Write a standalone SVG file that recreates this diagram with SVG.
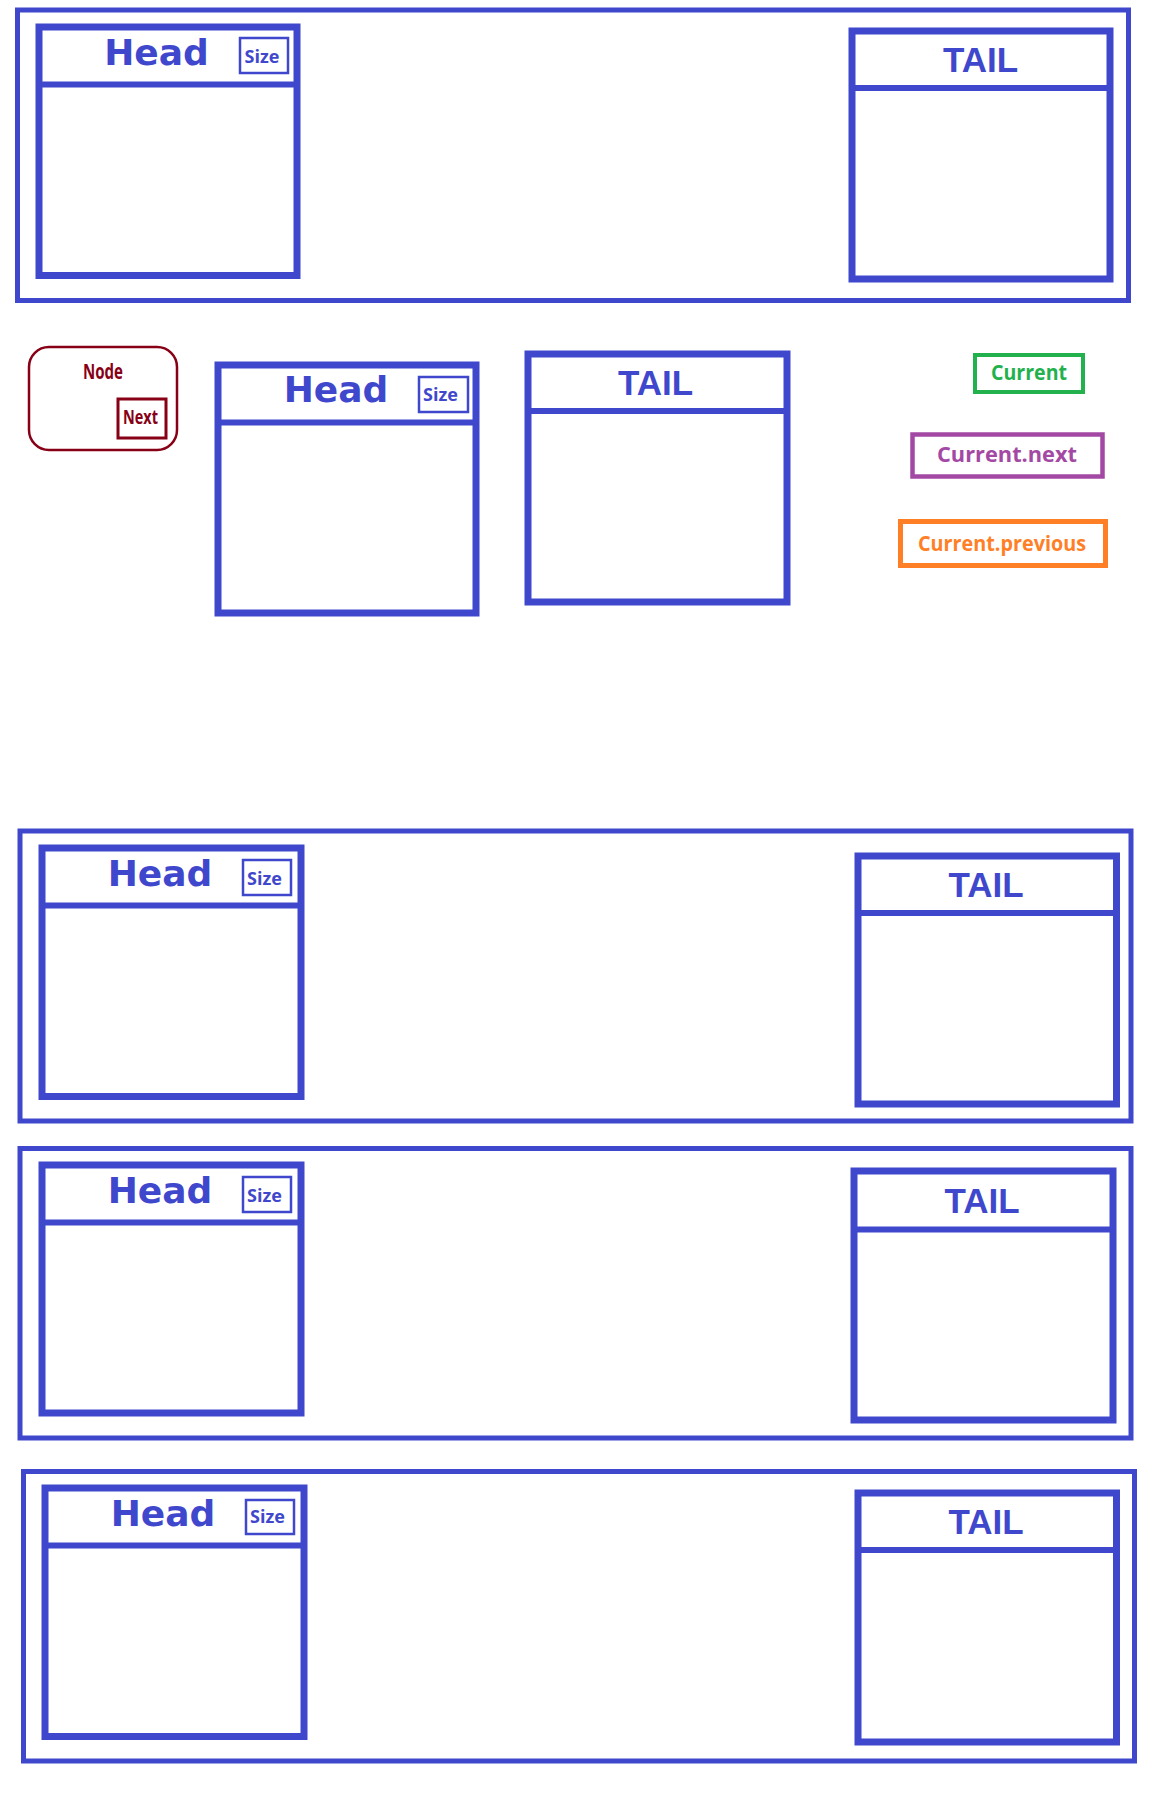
<svg xmlns="http://www.w3.org/2000/svg" width="1152" height="1800" viewBox="0 0 1152 1800">
<style>
.panel{fill:none;stroke:#3F48CC;stroke-width:5}
.box{fill:#fff;stroke:#3F48CC;stroke-width:7}
.div{stroke:#3F48CC;stroke-width:6}
.size{fill:#fff;stroke:#3F48CC;stroke-width:2.5}
.head{font-family:"DejaVu Sans",Verdana,sans-serif;font-weight:bold;font-size:36px;fill:#3F48CC;text-anchor:middle}
.tail{font-family:"Liberation Sans",Arial,sans-serif;font-weight:bold;font-size:35px;fill:#3F48CC;text-anchor:middle}
.sz{font-family:"Open Sans","Noto Sans",sans-serif;font-weight:bold;font-size:18px;fill:#3F48CC;text-anchor:middle}
.lbl{font-family:"Open Sans","Noto Sans",sans-serif;font-weight:bold;text-anchor:middle}
</style>
<rect width="1152" height="1800" fill="#fff"/>

<g id="panel1">
<rect class="panel" x="17.5" y="10" width="1111" height="290.5"/>
<g id="head1"><rect class="box" x="39" y="27" width="258" height="248.5"/><line class="div" x1="39" y1="84.5" x2="297" y2="84.5"/><text class="head" x="156.5" y="65">Head</text><rect class="size" x="240" y="38" width="48" height="35"/><text class="sz" x="262" y="63">Size</text></g>
<g id="tail1"><rect class="box" x="852" y="31" width="258" height="248"/><line class="div" x1="852" y1="88" x2="1110" y2="88"/><text class="tail" x="980.5" y="72">TAIL</text></g>
</g>

<g id="node">
<rect x="29" y="347" width="148" height="103" rx="20" fill="#fff" stroke="#880015" stroke-width="2.5"/>
<text class="lbl" x="103" y="379" font-size="22" fill="#880015" textLength="40" lengthAdjust="spacingAndGlyphs">Node</text>
<rect x="118" y="399" width="48" height="39" fill="#fff" stroke="#880015" stroke-width="3"/>
<text class="lbl" x="140.5" y="424" font-size="19" fill="#880015" textLength="35" lengthAdjust="spacingAndGlyphs">Next</text>
</g>

<g id="head2"><rect class="box" x="218" y="365" width="258" height="248"/><line class="div" x1="218" y1="422.5" x2="476" y2="422.5"/><text class="head" x="336" y="402">Head</text><rect class="size" x="419" y="377" width="49" height="35"/><text class="sz" x="440.5" y="401">Size</text></g>
<g id="tail2"><rect class="box" x="528" y="354" width="259" height="248"/><line class="div" x1="528" y1="411" x2="787" y2="411"/><text class="tail" x="655.5" y="395">TAIL</text></g>

<g id="current"><rect x="975" y="355" width="108" height="37" fill="#fff" stroke="#22B14C" stroke-width="4"/><text class="lbl" x="1029" y="380" font-size="21" fill="#22B14C" textLength="76" lengthAdjust="spacingAndGlyphs">Current</text></g>
<g id="current-next"><rect x="912.5" y="434.5" width="190" height="42" fill="#fff" stroke="#A349A4" stroke-width="4.5"/><text class="lbl" x="1007" y="462" font-size="22" fill="#A349A4" textLength="140" lengthAdjust="spacingAndGlyphs">Current.next</text></g>
<g id="current-previous"><rect x="900.5" y="521.5" width="205" height="44" fill="#fff" stroke="#FF7F27" stroke-width="5"/><text class="lbl" x="1002" y="551" font-size="21" fill="#FF7F27" textLength="168" lengthAdjust="spacingAndGlyphs">Current.previous</text></g>

<g id="panel2">
<rect class="panel" x="20" y="831" width="1111" height="290"/>
<g id="head3"><rect class="box" x="42" y="848" width="259" height="248.5"/><line class="div" x1="42" y1="905.5" x2="301" y2="905.5"/><text class="head" x="160" y="886">Head</text><rect class="size" x="243" y="860" width="48" height="35"/><text class="sz" x="264.5" y="885">Size</text></g>
<g id="tail3"><rect class="box" x="858" y="856" width="258.5" height="248"/><line class="div" x1="858" y1="913" x2="1116.5" y2="913"/><text class="tail" x="986" y="897">TAIL</text></g>
</g>

<g id="panel3">
<rect class="panel" x="20" y="1148.5" width="1111" height="289.5"/>
<g id="head4"><rect class="box" x="42" y="1165" width="259" height="248"/><line class="div" x1="42" y1="1222.5" x2="301" y2="1222.5"/><text class="head" x="160" y="1203">Head</text><rect class="size" x="243" y="1177" width="48" height="35"/><text class="sz" x="264.5" y="1202">Size</text></g>
<g id="tail4"><rect class="box" x="854" y="1171" width="259" height="249"/><line class="div" x1="854" y1="1229.5" x2="1113" y2="1229.5"/><text class="tail" x="982" y="1213">TAIL</text></g>
</g>

<g id="panel4">
<rect class="panel" x="23.5" y="1471.5" width="1111" height="289.5"/>
<g id="head5"><rect class="box" x="45" y="1488" width="259" height="248.5"/><line class="div" x1="45" y1="1545.5" x2="304" y2="1545.5"/><text class="head" x="163" y="1526">Head</text><rect class="size" x="246" y="1500" width="48" height="34"/><text class="sz" x="267.5" y="1523">Size</text></g>
<g id="tail5"><rect class="box" x="858" y="1493" width="258.5" height="249"/><line class="div" x1="858" y1="1550" x2="1116.5" y2="1550"/><text class="tail" x="986" y="1534">TAIL</text></g>
</g>

<g id="connectors"/>
</svg>
